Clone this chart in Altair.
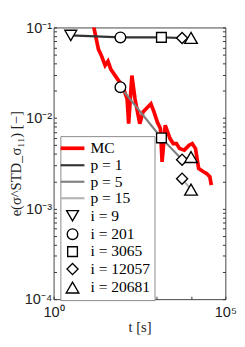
import altair as alt
import pandas as pd

# ---- data ----
mc_t = [12.9, 20.2, 24.5, 31.6, 38.3, 46.4, 72.6, 100, 138, 153, 190, 234, 322, 401, 494, 681, 841,
        1045, 1291, 1439, 1778, 2449, 3027, 3758, 4645, 6397, 8790, 10860, 13520, 16670, 22960,
        28380, 35240, 39080]
mc_e = [0.129, 0.0573, 0.0492, 0.0382, 0.0423, 0.0345, 0.0269, 0.0229, 0.0163, 0.00865, 0.0294,
        0.0163, 0.00865, 0.01164, 0.01265, 0.01436, 0.01164, 0.00904, 0.00762, 0.00328, 0.00832,
        0.00593, 0.00522, 0.00522, 0.0046, 0.00442, 0.00501, 0.00522, 0.0046, 0.00277, 0.00255,
        0.00244, 0.00225, 0.00182]

p1_t = [3.16, 88, 1377, 5500, 10000]
p1_e = [0.0817, 0.0777, 0.0777, 0.0766, 0.0766]
p1_i = ["i = 9", "i = 201", "i = 3065", "i = 12057", "i = 20681"]

p5_t = [88, 1377, 5500, 10000]
p5_e = [0.0219, 0.00603, 0.00347, 0.00371]
p5_i = ["i = 201", "i = 3065", "i = 12057", "i = 20681"]

p15_t = [5500, 10000]
p15_e = [0.00214, 0.00162]
p15_i = ["i = 12057", "i = 20681"]

keys = ["MC", "p = 1", "p = 5", "p = 15", "i = 9", "i = 201", "i = 3065", "i = 12057", "i = 20681"]
colors = ["#ff0000", "#333333", "#808080", "#b4b4b4", "#000000", "#000000", "#000000", "#000000", "#000000"]
line_path = "M-2,0H2"
shapes = [line_path, line_path, line_path, line_path, "triangle-down", "circle", "square", "diamond", "triangle-up"]
sizes = [150, 150, 150, 150, 150, 120, 100, 130, 170]
widths = [3.8, 2.2, 2.2, 2.2, 1.4, 1.4, 1.4, 1.4, 1.4]

x_ticks = [1, 10, 100, 1000, 10000, 100000]
y_ticks = [round(k * 10 ** d, 10) for d in (-4, -3, -2) for k in range(1, 10)] + [0.1]

# ---- tables ----
lines = pd.DataFrame(
    [{"t": t, "e": e, "key": "MC", "ord": n} for n, (t, e) in enumerate(zip(mc_t, mc_e))]
    + [{"t": t, "e": e, "key": "p = 1", "ord": n} for n, (t, e) in enumerate(zip(p1_t, p1_e))]
    + [{"t": t, "e": e, "key": "p = 5", "ord": n} for n, (t, e) in enumerate(zip(p5_t, p5_e))]
    + [{"t": t, "e": e, "key": "p = 15", "ord": n} for n, (t, e) in enumerate(zip(p15_t, p15_e))]
)
points = pd.DataFrame(
    [{"t": t, "e": e, "key": k} for t, e, k in zip(p1_t, p1_e, p1_i)]
    + [{"t": t, "e": e, "key": k} for t, e, k in zip(p5_t, p5_e, p5_i)]
    + [{"t": t, "e": e, "key": k} for t, e, k in zip(p15_t, p15_e, p15_i)]
)

xscale = alt.Scale(type="log", domain=[1, 1e5], nice=False)
yscale = alt.Scale(type="log", domain=[1e-4, 1e-1], nice=False)

x_lab = "datum.value == 1 ? '10⁰' : datum.value == 100000 ? '10⁵' : ''"
y_lab = ("datum.value == 0.1 ? '10⁻¹' : datum.value == 0.01 ? '10⁻²' : "
         "datum.value == 0.001 ? '10⁻³' : datum.value == 0.0001 ? '10⁻⁴' : ''")

x_enc = alt.X("t:Q", scale=xscale,
              axis=alt.Axis(values=x_ticks, labelExpr=x_lab, title="t [s]", offset=-3, tickSize=3,
                            domain=False, grid=False, labelFlush=False, labelOverlap=False,
                            labelPadding=6, titlePadding=0, tickColor="#333"))
y_left = alt.Y("e:Q", scale=yscale,
               axis=alt.Axis(values=y_ticks, labelExpr=y_lab, title="e(σ^STD_σ₁₁) [−]", offset=-3,
                             tickSize=3, domain=False, grid=False, labelFlush=False, labelOverlap=False,
                             labelPadding=2, titlePadding=1, tickColor="#333"))
y_right = alt.Y("e:Q", scale=yscale,
                axis=alt.Axis(values=y_ticks, orient="right", labels=False, title=None, offset=-3,
                              tickSize=3, domain=False, grid=False, tickColor="#333"))

legend = alt.Legend(title=None, orient="none", legendX=7, legendY=112, strokeColor="#888888",
                    fillColor="white", padding=4, labelFont="Liberation Serif", labelFontSize=16,
                    labelOffset=10, rowPadding=1, labelColor="black")

color_enc = alt.Color("key:N", scale=alt.Scale(domain=keys, range=colors), legend=legend)
shape_enc = alt.Shape("key:N", scale=alt.Scale(domain=keys, range=shapes), legend=legend)
size_enc = alt.Size("key:N", scale=alt.Scale(type="ordinal", domain=keys, range=sizes), legend=legend)
sw_enc = alt.StrokeWidth("key:N", scale=alt.Scale(type="ordinal", domain=keys, range=widths), legend=legend)

line_layer = alt.Chart(lines).mark_line(clip=True).encode(
    x=x_enc, y=y_left, color=color_enc, strokeWidth=sw_enc, order="ord:Q"
)
point_layer = alt.Chart(points).mark_point(filled=False, fill="white", fillOpacity=1, opacity=1, clip=True).encode(
    x=x_enc, y=y_right, color=color_enc, shape=shape_enc, size=size_enc, strokeWidth=sw_enc
)

chart = alt.layer(line_layer, point_layer).resolve_axis(y="independent").properties(
    width=236, height=331,
    autosize=alt.AutoSizeParams(type="fit", contains="padding"),
    padding={"left": 0, "top": 8, "right": 0, "bottom": 0},
).configure_view(stroke="#444444", strokeWidth=1).configure_axis(
    labelFont="Liberation Sans", labelFontSize=15, labelColor="#222",
    titleFont="Liberation Serif", titleFontSize=15, titleFontWeight="normal", titleColor="#222"
)

chart.save("out.html", embed_options={"renderer": "svg", "actions": False})
